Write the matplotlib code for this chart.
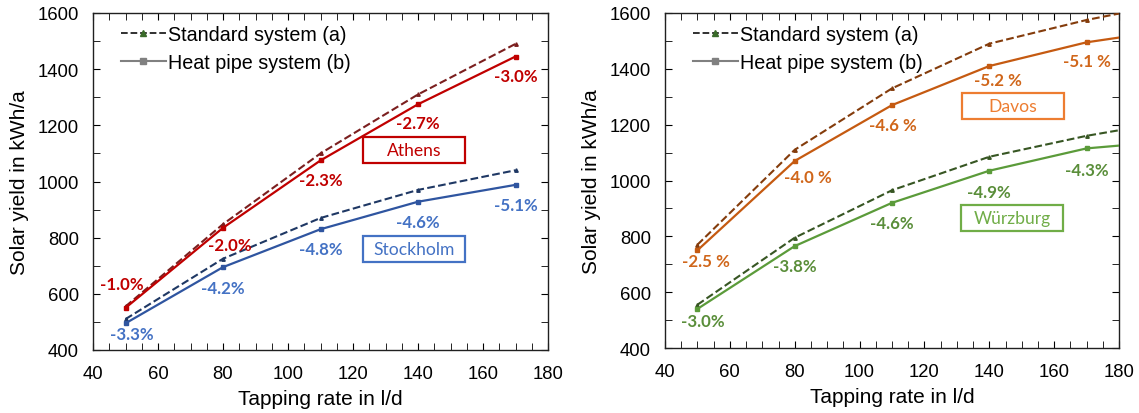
import matplotlib
matplotlib.use("Agg")
import matplotlib.pyplot as plt
from matplotlib.ticker import MultipleLocator
from matplotlib.lines import Line2D
from matplotlib.patches import Rectangle

plt.rcParams['font.family'] = ['Liberation Sans', 'DejaVu Sans']

# ---------------- data ----------------
tap_left = [50, 80, 110, 140, 170]
athens_std = [555, 848, 1100, 1310, 1490]
athens_hp = [550, 835, 1075, 1275, 1445]
stockholm_std = [510, 725, 870, 970, 1040]
stockholm_hp = [495, 695, 830, 928, 988]

tap_right = [50, 80, 110, 140, 170, 180]
davos_std = [770, 1110, 1330, 1490, 1575, 1598]
davos_hp = [750, 1070, 1270, 1410, 1495, 1512]
wuerz_std = [555, 795, 965, 1085, 1160, 1180]
wuerz_hp = [540, 765, 920, 1035, 1115, 1125]

athens_lbl = ["-1.0%", "-2.0%", "-2.3%", "-2.7%", "-3.0%"]
athens_lbl_xy = [(48.8, 634), (82, 773), (110, 1005), (140, 1207), (170, 1374)]
stock_lbl = ["-3.3%", "-4.2%", "-4.8%", "-4.6%", "-5.1%"]
stock_lbl_xy = [(51.9, 458), (80, 622), (110, 759), (140, 856), (170, 917)]
davos_lbl = ["-2.5 %", "-4.0 %", "-4.6 %", "-5.2 %", "-5.1 %"]
davos_lbl_xy = [(52.6, 713), (84.1, 1014), (110.2, 1198), (142.6, 1361), (170.1, 1428)]
wuerz_lbl = ["-3.0%", "-3.8%", "-4.6%", "-4.9%", "-4.3%"]
wuerz_lbl_xy = [(51.7, 498), (80.1, 693), (110, 846), (140, 960), (170.1, 1039)]

city_names = ["Athens", "Stockholm", "Davos", "Würzburg"]
# box extents (x0, x1, y0, y1) in data units
city_boxes = [(123.1, 154.4, 1065, 1160), (123.1, 154.4, 712, 806),
              (131.6, 163.0, 1221, 1315), (131.4, 162.8, 820, 914)]

# ---------------- styling ----------------
c_ath, c_ath_d = "#C00000", "#7B1F1F"
c_sto, c_sto_d, c_sto_t = "#2F55A0", "#1F3864", "#4472C4"
c_dav, c_dav_d, c_dav_t, c_dav_b = "#C55A11", "#843C0C", "#D0661A", "#ED7D31"
c_wue, c_wue_d, c_wue_t, c_wue_b = "#5B9B3A", "#375623", "#5A8E3A", "#70AD47"

W, H = 1139, 414
fig = plt.figure(figsize=(W / 100, H / 100), dpi=100)
axL = fig.add_axes([93 / W, (H - 351) / H, (548 - 93) / W, (351 - 14) / H])
axR = fig.add_axes([665 / W, (H - 349) / H, (1119 - 665) / W, (349 - 14) / H])

annot_font = dict(family=['Lato', 'DejaVu Sans'], fontweight='bold', fontsize=12.2)


def style_axes(ax):
    ax.set_xlim(40, 180)
    ax.set_ylim(400, 1600)
    ax.xaxis.set_major_locator(MultipleLocator(20))
    ax.xaxis.set_minor_locator(MultipleLocator(5))
    ax.yaxis.set_major_locator(MultipleLocator(200))
    ax.yaxis.set_minor_locator(MultipleLocator(100))
    ax.tick_params(which='both', direction='in', top=True, right=True,
                   labelsize=13.3)
    ax.tick_params(axis='y', pad=10)
    ax.tick_params(axis='x', pad=11)
    ax.tick_params(which='major', length=5)
    ax.tick_params(which='minor', length=5)
    for s in ax.spines.values():
        s.set_color("#202020")
        s.set_linewidth(1.0)
    ax.set_xlabel("Tapping rate in l/d", fontsize=15, labelpad=5)
    ax.set_ylabel("Solar yield in kWh/a", fontsize=15, labelpad=6)
    handles = [
        Line2D([], [], color="#202020", ls='--', lw=1.3, marker='^', ms=4,
               mfc="#3A6B2A", mec="#3A6B2A"),
        Line2D([], [], color="#808080", ls='-', lw=1.5, marker='s', ms=4.5,
               mfc="#808080", mec="#808080"),
    ]
    ax.legend(handles, ["Standard system (a)", "Heat pipe system (b)"],
              loc='upper left', frameon=False, fontsize=14.2, handlelength=2.3,
              handletextpad=0.1, borderaxespad=0.2, labelspacing=0.45,
              bbox_to_anchor=(0.035, 1.0))


def pair(ax, x, std, hp, cs, ch, mev):
    ax.plot(x, std, ls='--', color=cs, lw=1.5, marker='^', ms=2.5,
            markevery=mev, zorder=3)
    ax.plot(x, hp, ls='-', color=ch, lw=1.6, marker='s', ms=3.2,
            markevery=mev, zorder=4)


def labels(ax, txts, xys, color):
    for t, (x, y) in zip(txts, xys):
        ax.text(x, y, t, color=color, ha='center', va='center', **annot_font)


def box(ax, name, ext, ec, tc):
    x0, x1, y0, y1 = ext
    ax.add_patch(Rectangle((x0, y0), x1 - x0, y1 - y0, fc='white', ec=ec,
                           lw=1.6, zorder=5))
    ax.text((x0 + x1) / 2, (y0 + y1) / 2, name, color=tc, ha='center',
            va='center', fontsize=12.6, family=['Lato', 'DejaVu Sans'], zorder=6)


# left panel
pair(axL, tap_left, athens_std, athens_hp, c_ath_d, c_ath, [0, 1, 2, 3, 4])
pair(axL, tap_left, stockholm_std, stockholm_hp, c_sto_d, c_sto, [0, 1, 2, 3, 4])
labels(axL, athens_lbl, athens_lbl_xy, c_ath)
labels(axL, stock_lbl, stock_lbl_xy, c_sto_t)
box(axL, city_names[0], city_boxes[0], c_ath, c_ath)
box(axL, city_names[1], city_boxes[1], c_sto_t, c_sto_t)
style_axes(axL)

# right panel
pair(axR, tap_right, davos_std, davos_hp, c_dav_d, c_dav, [0, 1, 2, 3, 4])
pair(axR, tap_right, wuerz_std, wuerz_hp, c_wue_d, c_wue, [0, 1, 2, 3, 4])
labels(axR, davos_lbl, davos_lbl_xy, c_dav_t)
labels(axR, wuerz_lbl, wuerz_lbl_xy, c_wue_t)
box(axR, city_names[2], city_boxes[2], c_dav_b, c_dav_b)
box(axR, city_names[3], city_boxes[3], c_wue_b, c_wue_b)
style_axes(axR)

fig.savefig("out.png", dpi=100)
